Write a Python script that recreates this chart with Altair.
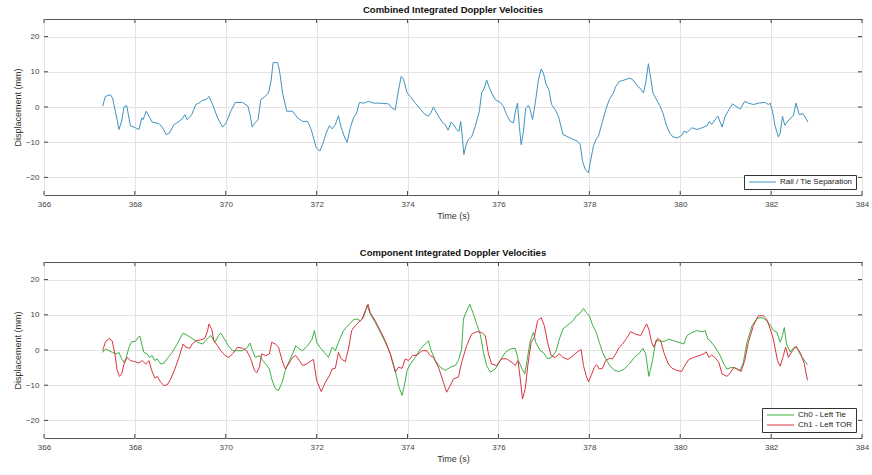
import altair as alt
import pandas as pd

x_ticks = [366, 368, 370, 372, 374, 376, 378, 380, 382, 384]
y_ticks = [-20, -10, 0, 10, 20]

combined_t = [367.29, 367.35, 367.46, 367.51, 367.57, 367.65, 367.71, 367.76, 367.82, 367.85, 367.90, 368.01, 368.09,
              368.15, 368.18, 368.25, 368.31, 368.38, 368.53, 368.60, 368.69, 368.76, 368.86, 368.97, 369.04, 369.10,
              369.15, 369.25, 369.34, 369.41, 369.49, 369.57, 369.63, 369.71, 369.82, 369.93, 370.01, 370.11, 370.21,
              370.37, 370.49, 370.54, 370.58, 370.63, 370.71, 370.77, 370.85, 370.94, 371.00, 371.04, 371.14, 371.18,
              371.25, 371.34, 371.47, 371.58, 371.69, 371.80, 371.88, 371.99, 372.07, 372.13, 372.21, 372.28, 372.34,
              372.41, 372.48, 372.54, 372.62, 372.67, 372.74, 372.81, 372.88, 372.94, 373.03, 373.14, 373.25, 373.36,
              373.58, 373.66, 373.73, 373.79, 373.86, 373.91, 373.99, 374.06, 374.17, 374.28, 374.39, 374.46, 374.52,
              374.57, 374.64, 374.75, 374.83, 374.89, 374.96, 375.01, 375.08, 375.13, 375.17, 375.21, 375.24, 375.28,
              375.34, 375.41, 375.49, 375.58, 375.63, 375.69, 375.74, 375.79, 375.85, 375.93, 376.04, 376.11, 376.18,
              376.26, 376.33, 376.38, 376.42, 376.46, 376.50, 376.55, 376.60, 376.66, 376.70, 376.75, 376.81, 376.88,
              376.94, 376.99, 377.04, 377.11, 377.17, 377.25, 377.32, 377.42, 377.53, 377.64, 377.74, 377.80, 377.85,
              377.91, 377.98, 378.02, 378.09, 378.15, 378.20, 378.29, 378.36, 378.44, 378.53, 378.58, 378.66, 378.73,
              378.82, 378.89, 378.96, 379.04, 379.13, 379.19, 379.24, 379.30, 379.35, 379.40, 379.46, 379.55, 379.62,
              379.69, 379.77, 379.84, 379.93, 380.03, 380.08, 380.15, 380.26, 380.37, 380.48, 380.59, 380.64, 380.69,
              380.77, 380.83, 380.92, 380.99, 381.07, 381.15, 381.25, 381.32, 381.42, 381.50, 381.61, 381.72, 381.87,
              381.94, 381.98, 382.03, 382.09, 382.16, 382.20, 382.25, 382.30, 382.39, 382.49, 382.55, 382.62, 382.70,
              382.76, 382.81]
combined_v = [0.2, 3.0, 3.5, 2.5, -1.2, -6.4, -4.0, 0.0, 0.4, -1.7, -5.3, -5.9, -6.4,
              -3.1, -3.6, -1.2, -2.6, -4.3, -4.7, -5.7, -7.8, -7.4, -5.0, -4.1, -3.4, -2.2,
              -3.6, -2.2, 0.7, 1.1, 1.9, 2.1, 3.0, 0.7, -3.1, -5.7, -4.5, -1.2, 1.3,
              1.3, 0.2, -2.6, -5.7, -4.7, -3.6, 2.1, 2.8, 4.0, 7.7, 12.6, 12.6, 10.6,
              4.0, -1.2, -1.2, -3.1, -4.1, -4.1, -6.4, -11.6, -12.5, -10.7, -7.4, -5.3, -6.2,
              -5.0, -2.5, -5.9, -8.8, -10.0, -5.9, -3.1, -1.7, 1.3, 1.1, 1.6, 1.1, 1.1,
              0.9, -0.3, -0.8, 4.0, 8.7, 7.9, 4.0, 3.0, 1.1, -0.6, -2.2, -2.6, -1.5,
              0.0, -1.7, -4.1, -5.0, -6.6, -4.3, -5.0, -6.4, -6.9, -4.1, -9.2, -13.5, -11.1,
              -9.2, -8.5, -5.5, -1.2, 4.0, 5.4, 7.7, 5.8, 4.0, 2.1, 1.3, 0.2, -2.2,
              -4.1, -4.5, -0.8, 1.1, -5.5, -10.7, -6.9, -0.3, 0.4, -0.8, -3.6, 1.1, 7.7,
              10.8, 9.6, 6.8, 4.9, 0.7, -0.8, -2.6, -7.8, -8.5, -9.2, -9.7, -10.7, -15.4,
              -17.7, -18.7, -15.8, -11.1, -9.1, -8.3, -4.1, -0.8, 2.1, 4.0, 5.8, 7.3, 7.5,
              7.9, 8.2, 7.7, 6.3, 5.1, 4.0, 6.8, 12.3, 8.2, 4.0, 2.5, 0.4, -1.7,
              -5.0, -7.4, -8.5, -8.8, -8.1, -6.9, -7.2, -5.9, -6.4, -5.9, -5.3, -4.1, -5.0,
              -3.6, -2.6, -5.7, -2.6, -0.8, 0.9, 0.0, -0.6, 1.6, 1.1, 0.7, 1.1, 1.3,
              0.7, 1.1, -1.2, -5.5, -8.5, -7.4, -2.6, -5.2, -3.7, -2.4, 1.1, -2.2, -1.9,
              -3.1, -4.3]

ch0_t = [367.29, 367.35, 367.43, 367.51, 367.59, 367.65, 367.71, 367.76, 367.81, 367.87, 367.93, 368.01, 368.07,
         368.11, 368.15, 368.20, 368.27, 368.32, 368.38, 368.44, 368.49, 368.57, 368.64, 368.71, 368.82, 368.93,
         369.06, 369.15, 369.26, 369.38, 369.49, 369.60, 369.67, 369.76, 369.84, 369.89, 369.96, 370.06, 370.15,
         370.26, 370.37, 370.48, 370.53, 370.59, 370.65, 370.74, 370.81, 370.88, 370.96, 371.01, 371.09, 371.16,
         371.24, 371.31, 371.40, 371.47, 371.54, 371.62, 371.69, 371.80, 371.90, 371.95, 372.00, 372.07, 372.17,
         372.26, 372.34, 372.41, 372.48, 372.59, 372.70, 372.81, 372.89, 372.96, 373.03, 373.11, 373.18, 373.29,
         373.40, 373.51, 373.62, 373.73, 373.80, 373.88, 373.93, 373.99, 374.06, 374.17, 374.28, 374.39, 374.46,
         374.52, 374.61, 374.72, 374.83, 374.94, 375.05, 375.12, 375.19, 375.23, 375.30, 375.37, 375.45, 375.52,
         375.60, 375.67, 375.74, 375.82, 375.93, 376.04, 376.15, 376.26, 376.37, 376.44, 376.52, 376.58, 376.63,
         376.70, 376.77, 376.82, 376.92, 376.99, 377.08, 377.17, 377.27, 377.34, 377.42, 377.49, 377.56, 377.64,
         377.72, 377.80, 377.87, 377.93, 378.00, 378.07, 378.15, 378.22, 378.29, 378.36, 378.45, 378.55, 378.66,
         378.77, 378.88, 378.99, 379.09, 379.18, 379.24, 379.31, 379.39, 379.46, 379.55, 379.64, 379.75, 379.86,
         379.97, 380.08, 380.15, 380.26, 380.37, 380.48, 380.55, 380.61, 380.66, 380.77, 380.88, 380.96, 381.03,
         381.14, 381.21, 381.32, 381.39, 381.47, 381.58, 381.69, 381.80, 381.91, 381.99, 382.06, 382.13, 382.20,
         382.25, 382.29, 382.34, 382.42, 382.51, 382.58, 382.65, 382.73, 382.80]
ch0_v = [-0.7, 0.3, -0.2, -0.7, -1.1, -0.7, -2.5, -3.5, -2.1, 0.8, 2.4, 2.4, 3.6,
         3.9, 1.7, -0.7, -1.1, -2.1, -1.6, -3.0, -2.5, -4.0, -3.7, -2.5, -0.7, 1.7,
         4.8, 4.2, 3.3, 2.2, 1.7, 3.3, 4.1, 2.2, 4.1, 4.8, 3.3, 1.2, -0.2,
         -0.2, -0.2, 0.8, 2.0, -0.2, -2.1, -1.6, -3.0, -4.0, -5.4, -8.2, -11.0, -11.5,
         -9.2, -5.8, -3.0, -1.1, 1.2, 0.3, -0.2, 1.2, 3.1, 5.5, 2.2, 0.8, -0.7,
         -2.1, 0.8, -0.2, 2.2, 5.5, 7.1, 8.6, 8.8, 8.3, 9.2, 12.7, 10.2, 7.8,
         5.0, 2.2, -1.1, -5.8, -10.1, -12.9, -10.1, -5.8, -4.0, -2.1, 0.3, 1.7, 2.6,
         -0.2, -3.0, -4.9, -5.8, -4.9, -4.4, -3.0, 0.3, 8.8, 11.1, 13.0, 10.2, 7.4,
         4.5, -0.7, -4.4, -6.3, -5.4, -3.0, -0.7, 0.3, 0.5, -3.0, -5.4, -6.8, -3.0,
         2.6, 5.0, 2.2, -0.2, -0.7, -2.5, -2.1, -0.2, 3.1, 6.0, 6.7, 7.4, 8.3,
         9.8, 10.5, 11.8, 10.7, 9.7, 7.1, 5.0, 2.2, -0.7, -2.5, -4.4, -5.8, -6.1,
         -5.4, -4.0, -2.1, -1.1, 0.5, -1.1, -7.5, -3.0, 2.6, 2.6, 2.4, 3.1, 2.6,
         2.2, 1.7, 4.1, 5.0, 5.5, 5.2, 5.5, 3.1, 2.6, 0.8, -1.6, -4.0, -5.4,
         -4.9, -5.2, -5.8, -3.5, 2.2, 6.9, 9.0, 9.2, 8.3, 6.9, 5.5, 5.0, 2.2,
         4.1, 6.4, 1.7, -0.6, 0.8, 0.4, -1.5, -2.9, -4.2]

ch1_t = [367.29, 367.35, 367.43, 367.50, 367.56, 367.61, 367.66, 367.71, 367.76, 367.83, 367.90, 368.00, 368.09,
         368.16, 368.24, 368.31, 368.37, 368.44, 368.49, 368.57, 368.64, 368.71, 368.79, 368.88, 368.97, 369.06,
         369.12, 369.21, 369.26, 369.34, 369.45, 369.54, 369.60, 369.63, 369.69, 369.74, 369.82, 369.89, 369.99,
         370.07, 370.15, 370.26, 370.37, 370.46, 370.55, 370.63, 370.68, 370.74, 370.79, 370.88, 370.96, 371.01,
         371.09, 371.16, 371.24, 371.31, 371.38, 371.47, 371.54, 371.62, 371.69, 371.78, 371.88, 371.93, 372.00,
         372.10, 372.19, 372.28, 372.34, 372.41, 372.48, 372.54, 372.63, 372.70, 372.77, 372.85, 372.92, 372.99,
         373.07, 373.13, 373.18, 373.29, 373.40, 373.51, 373.62, 373.73, 373.80, 373.88, 373.95, 374.02, 374.11,
         374.21, 374.32, 374.42, 374.50, 374.57, 374.68, 374.79, 374.86, 374.94, 375.01, 375.12, 375.19, 375.30,
         375.41, 375.52, 375.63, 375.71, 375.78, 375.85, 375.96, 376.07, 376.18, 376.29, 376.37, 376.43, 376.48,
         376.53, 376.59, 376.65, 376.72, 376.79, 376.86, 376.94, 377.01, 377.08, 377.16, 377.25, 377.34, 377.42,
         377.53, 377.64, 377.74, 377.82, 377.87, 377.93, 377.98, 378.04, 378.11, 378.16, 378.22, 378.29, 378.36,
         378.44, 378.51, 378.58, 378.66, 378.73, 378.82, 378.91, 379.02, 379.13, 379.20, 379.26, 379.31, 379.37,
         379.42, 379.50, 379.57, 379.64, 379.74, 379.82, 379.93, 380.03, 380.12, 380.19, 380.30, 380.41, 380.52,
         380.57, 380.63, 380.69, 380.76, 380.85, 380.92, 381.03, 381.10, 381.18, 381.25, 381.34, 381.42, 381.50,
         381.61, 381.72, 381.82, 381.90, 381.98, 382.05, 382.14, 382.20, 382.27, 382.32, 382.38, 382.47, 382.55,
         382.65, 382.73, 382.80]
ch1_v = [-0.2, 2.2, 3.3, 2.6, -1.1, -5.8, -7.5, -6.8, -4.0, -2.1, -3.0, -3.3, -3.7,
         -3.0, -4.0, -3.0, -5.8, -8.0, -7.5, -9.2, -10.1, -9.9, -8.2, -5.4, -2.1, 1.7,
         0.8, 0.5, 1.7, 2.6, 2.9, 3.3, 5.5, 7.4, 5.9, 2.6, 1.2, -0.2, -1.6,
         -2.1, -1.1, 0.8, 0.5, -0.2, -2.5, -5.8, -6.5, -4.9, -1.1, -1.6, -1.1, 2.2,
         1.7, 0.8, -3.0, -5.4, -4.0, -2.1, -1.6, -3.0, -4.4, -4.0, -3.0, -2.7, -8.7,
         -11.8, -9.2, -7.3, -5.4, -5.2, -0.7, -2.5, -3.3, 0.3, 5.5, 6.9, 7.8, 8.6,
         11.1, 13.0, 10.6, 8.3, 5.5, 2.6, -1.1, -6.3, -4.9, -5.2, -2.5, -3.0, -1.6,
         -1.4, -0.2, -0.2, -1.6, -2.1, -4.9, -9.2, -12.0, -10.1, -8.2, -7.7, -3.5, 1.2,
         4.5, 5.2, 5.0, 4.1, -1.1, -4.0, -4.4, -2.5, -2.5, -3.5, -4.4, -3.0, -8.2,
         -13.9, -11.0, -4.0, 2.2, 3.6, 8.3, 9.2, 6.9, 2.2, -1.6, -2.1, -1.1, -2.1,
         -2.7, -1.6, -0.5, 0.1, -4.4, -7.3, -9.0, -7.3, -4.9, -4.2, -5.4, -5.2, -3.0,
         -2.4, -2.5, -1.1, 0.8, 1.7, 3.3, 5.2, 4.5, 4.1, 5.9, 7.4, 5.9, 2.2,
         0.8, 3.3, 2.6, -0.7, -4.0, -5.2, -5.8, -6.1, -4.0, -2.7, -2.1, -1.6, -1.1,
         -0.5, -2.1, -1.4, -2.1, -3.5, -6.8, -7.5, -6.5, -4.9, -5.4, -6.1, -3.0, 2.2,
         6.9, 9.7, 9.8, 8.8, 6.0, 3.1, -3.0, -4.6, -1.6, 0.8, -2.1, -0.2, 1.1,
         -1.0, -3.9, -8.6]

W, H = 818, 176
FONT = "Liberation Sans"

df_top = pd.DataFrame({"t": combined_t, "v": combined_v, "series": "Rail / Tie Separation"})
df_bot = pd.concat([
    pd.DataFrame({"t": ch0_t, "v": ch0_v, "series": "Ch0 - Left Tie"}),
    pd.DataFrame({"t": ch1_t, "v": ch1_v, "series": "Ch1 - Left TOR"}),
])
df_xt = pd.DataFrame({"tick": x_ticks})
df_yt = pd.DataFrame({"tick": y_ticks})

xscale = alt.Scale(domain=[366, 384], nice=False, zero=False)
yscale = alt.Scale(domain=[-25, 25], nice=False, zero=False)


def panel(df, title, names, colors):
    lines = alt.Chart(df).mark_line(strokeWidth=1).encode(
        x=alt.X("t:Q", scale=xscale,
                axis=alt.Axis(title="Time (s)", values=x_ticks, grid=True, labelFlush=False)),
        y=alt.Y("v:Q", scale=yscale,
                axis=alt.Axis(title="Displacement (mm)", values=y_ticks, grid=True, labelFlush=False)),
        color=alt.Color("series:N", scale=alt.Scale(domain=names, range=colors),
                        legend=alt.Legend(title=None, orient="bottom-right", offset=6,
                                          symbolType="M-1,0H12.5", symbolSize=16,
                                          symbolStrokeWidth=1, labelFontSize=8,
                                          labelFont=FONT, labelColor="#222",
                                          strokeColor="#333", fillColor="white",
                                          padding=3, rowPadding=2, symbolOffset=0,
                                          labelOffset=25)),
        detail="series:N",
    )
    tick_color = "#444"
    xt_top = alt.Chart(df_xt).mark_rule(color=tick_color, strokeWidth=1).encode(
        x=alt.X("tick:Q", scale=xscale), y=alt.value(0), y2=alt.value(4))
    xt_bot = alt.Chart(df_xt).mark_rule(color=tick_color, strokeWidth=1).encode(
        x=alt.X("tick:Q", scale=xscale), y=alt.value(H - 4), y2=alt.value(H))
    yt_left = alt.Chart(df_yt).mark_rule(color=tick_color, strokeWidth=1).encode(
        y=alt.Y("tick:Q", scale=yscale), x=alt.value(0), x2=alt.value(4))
    yt_right = alt.Chart(df_yt).mark_rule(color=tick_color, strokeWidth=1).encode(
        y=alt.Y("tick:Q", scale=yscale), x=alt.value(W - 4), x2=alt.value(W))
    return alt.layer(lines, xt_top, xt_bot, yt_left, yt_right).properties(
        width=W, height=H,
        title=alt.TitleParams(title, fontSize=9.5, fontWeight="bold", font=FONT,
                              color="#111", anchor="middle", offset=4),
    )


top = panel(df_top, "Combined Integrated Doppler Velocities",
            ["Rail / Tie Separation"], ["#3f93c0"])
bot = panel(df_bot, "Component Integrated Doppler Velocities",
            ["Ch0 - Left Tie", "Ch1 - Left TOR"], ["#3cb043", "#d8343f"])

chart = alt.vconcat(top, bot, spacing=26).resolve_scale(color="independent").properties(
    padding={"left": 12, "top": 4, "right": 2, "bottom": 5},
    background="white",
).configure_view(
    stroke="#555", strokeWidth=1,
).configure_axis(
    domain=False, ticks=False, gridColor="#e3e3e3", gridWidth=1,
    labelFont=FONT, labelFontSize=8, labelColor="#444", labelPadding=5,
    titleFont=FONT, titleFontSize=9, titleFontWeight="normal", titleColor="#333",
).configure_axisX(titlePadding=3).configure_axisY(titlePadding=3)

chart.save("out.html", embed_options={"renderer": "svg", "actions": False})
